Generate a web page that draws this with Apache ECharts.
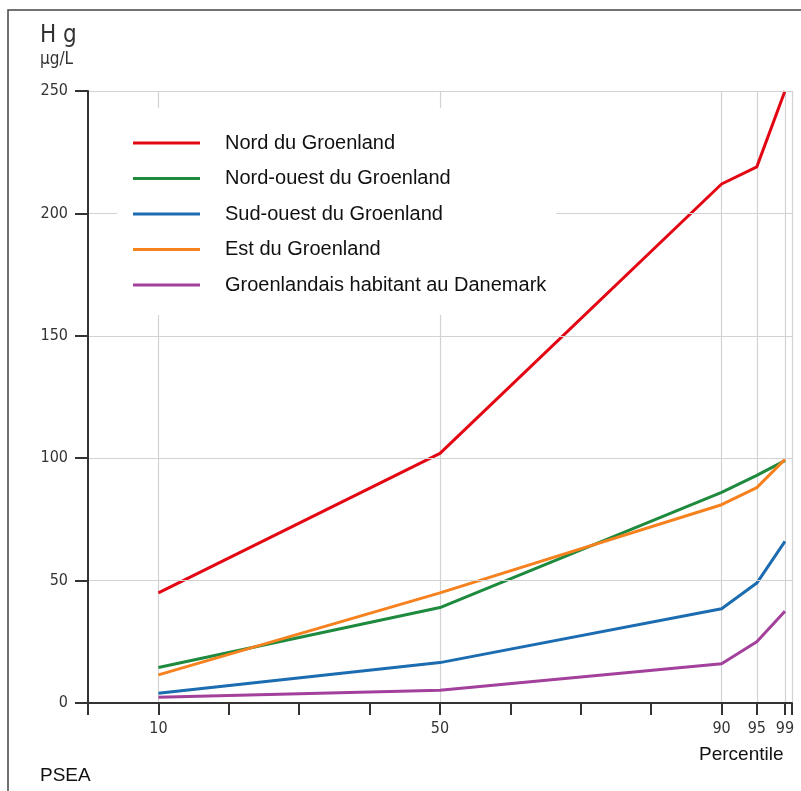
<!DOCTYPE html>
<html>
<head>
<meta charset="utf-8">
<script src="https://cdn.jsdelivr.net/npm/echarts@6/dist/echarts.min.js"></script>
<style>
  html, body { margin: 0; padding: 0; background: #fff; }
  #chart { width: 801px; height: 791px; }
</style>
</head>
<body>
<div id="chart"></div>
<script>
// percentiles on the x axis
const percentiles = [10, 50, 90, 95, 99];
// Hg in µg/L
const nord = [45, 102, 212, 219, 250];
const nordOuest = [14.5, 39, 86, 93, 99];
const sudOuest = [4, 16.5, 38.5, 49, 66];
const est = [11.5, 45, 81, 88, 99.5];
const danemark = [2.3, 5.2, 16, 25, 37.5];

const seriesNames = [
    "Nord du Groenland",
    "Nord-ouest du Groenland",
    "Sud-ouest du Groenland",
    "Est du Groenland",
    "Groenlandais habitant au Danemark",
];
const xTicks = [0, 10, 20, 30, 40, 50, 60, 70, 80, 90, 95, 99, 100];
const xLabels = [10, 50, 90, 95, 99];
const xGridLines = [10, 50, 90, 95, 99, 100];

const colors = ["#e30613", "#1d8a3e", "#1b6cb0", "#f5821f", "#a2409b"];
const tickFont = "'Liberation Sans Narrow', 'DejaVu Sans Condensed', sans-serif";

const toPairs = (vals) => percentiles.map((p, i) => [p, vals[i]]);

const myChart = echarts.init(document.getElementById("chart"));

const option = {
    backgroundColor: "#fff",
    animation: false,
    color: colors,
    grid: {
        left: 88,
        right: 9,
        top: 91,
        bottom: 88,
    },
    legend: {
        orient: "vertical",
        left: 117,
        top: 108,
        z: 10,
        padding: [25, 10, 20, 16],
        backgroundColor: "#fff",
        itemWidth: 67,
        itemHeight: 3,
        itemGap: 15.5,
        icon: "rect",
        data: seriesNames,
        textStyle: {
            fontFamily: "'Liberation Sans', Arial, sans-serif",
            fontSize: 20,
            color: "#111",
            padding: [0, 0, 0, 20],
        },
    },
    graphic: [
        {
            type: "rect",
            shape: { x: 8, y: 10, width: 820, height: 820 },
            style: { fill: "none", stroke: "#444", lineWidth: 1.5 },
            z: 100,
        },
        {
            type: "text",
            left: 40,
            top: 24,
            style: { text: "H g", font: "24px " + tickFont, fill: "#333" },
        },
        {
            type: "text",
            left: 40,
            top: 51,
            style: { text: "µg/L", font: "17px " + tickFont, fill: "#333" },
        },
        {
            type: "text",
            left: 699,
            top: 745,
            style: { text: "Percentile", font: "19px 'Liberation Sans', Arial, sans-serif", fill: "#111" },
        },
        {
            type: "text",
            left: 40,
            top: 766,
            style: { text: "PSEA", font: "19px 'Liberation Sans', Arial, sans-serif", fill: "#111" },
        },
    ],
    xAxis: [
        {
            type: "value",
            min: 0,
            max: 100,
            axisLine: { show: true, onZero: false, lineStyle: { color: "#333", width: 2 } },
            axisTick: {
                show: true,
                length: 12,
                customValues: xTicks,
                lineStyle: { color: "#333", width: 2 },
            },
            axisLabel: {
                customValues: xLabels,
                margin: 18,
                fontFamily: tickFont,
                fontSize: 16,
                color: "#333",
            },
            splitLine: { show: false },
            z: 5,
        },
        {
            type: "value",
            min: 0,
            max: 100,
            position: "bottom",
            axisLine: { show: false },
            axisTick: { show: false, customValues: xGridLines },
            axisLabel: { show: false },
            splitLine: { show: true, lineStyle: { color: "#d2d2d2", width: 1.2 } },
        },
    ],
    yAxis: {
        type: "value",
        min: 0,
        max: 250,
        interval: 50,
        axisLine: { show: true, lineStyle: { color: "#333", width: 2 } },
        axisTick: { show: true, length: 13, lineStyle: { color: "#333", width: 2 } },
        axisLabel: {
            margin: 20,
            fontFamily: tickFont,
            fontSize: 16,
            color: "#333",
        },
        splitLine: { show: true, lineStyle: { color: "#d2d2d2", width: 1.2 } },
        z: 5,
    },
    series: [nord, nordOuest, sudOuest, est, danemark].map((vals, i) => ({
        name: seriesNames[i],
        type: "line",
        data: toPairs(vals),
        symbol: "none",
        lineStyle: { width: 3 },
        z: 3,
    })),
};

myChart.setOption(option);
</script>
</body>
</html>
